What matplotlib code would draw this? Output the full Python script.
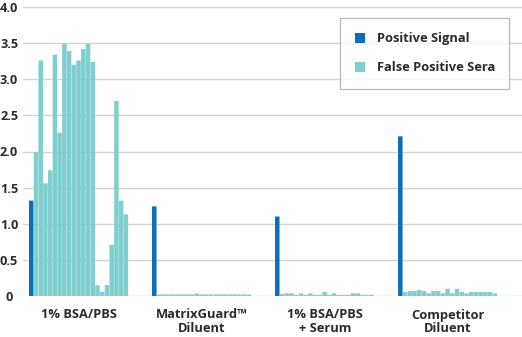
import matplotlib
matplotlib.use('Agg')
import matplotlib.pyplot as plt
from matplotlib.patches import Patch

plt.rcParams['font.family'] = ['Open Sans', 'DejaVu Sans']

# Dados
grupos = ['1% BSA/PBS', 'MatrixGuard™\nDiluent', '1% BSA/PBS\n+ Serum', 'Competitor\nDiluent']
sinal_positivo = [1.32, 1.24, 1.10, 2.21]
falso_bsa = [1.99, 3.26, 1.56, 1.74, 3.34, 2.26, 3.49, 3.39, 3.20, 3.26,
             3.42, 3.49, 3.24, 0.15, 0.06, 0.15, 0.71, 2.70, 1.32, 1.13]
falso_matrix = [0.022, 0.022, 0.022, 0.022, 0.022, 0.022, 0.022, 0.022, 0.035, 0.022,
                0.022, 0.022, 0.022, 0.022, 0.022, 0.022, 0.022, 0.022, 0.022, 0.022]
falso_bsa_soro = [0.028, 0.037, 0.037, 0.016, 0.037, 0.016, 0.037, 0.016, 0.016, 0.055,
                  0.016, 0.037, 0.016, 0.016, 0.016, 0.037, 0.037, 0.016, 0.016, 0.016]
falso_competidor = [0.055, 0.07, 0.07, 0.083, 0.07, 0.037, 0.07, 0.07, 0.037, 0.10,
                    0.037, 0.10, 0.055, 0.037, 0.055, 0.055, 0.055, 0.055, 0.055, 0.037]
falsos = [falso_bsa, falso_matrix, falso_bsa_soro, falso_competidor]

azul = '#0a6fbb'
turquesa = '#7fcfcf'
texto = '#2b2b2b'
passo = 26  # largura de cada grupo em barras

fig = plt.figure(figsize=(5.22, 3.37), dpi=100)
ax = fig.add_axes([23 / 522, 41 / 337, 499 / 522, 289 / 337])

centros = []
for i, (pos, fp) in enumerate(zip(sinal_positivo, falsos)):
    x0 = i * passo
    b1 = ax.bar(x0, pos, width=0.95, color=azul, align='edge', zorder=3)
    xs = [x0 + 1 + k for k in range(len(fp))]
    b2 = ax.bar(xs, fp, width=0.95, color=turquesa, align='edge', zorder=3)
    for r in list(b1) + list(b2):
        r.set_snap(False)
    centros.append(x0 + (len(fp) + 1) / 2)

ax.set_xlim(-1.27, 104.2)
ax.set_ylim(0, 4.0)
ax.set_yticks([0, 0.5, 1.0, 1.5, 2.0, 2.5, 3.0, 3.5, 4.0])
ax.set_yticklabels(['0', '0.5', '1.0', '1.5', '2.0', '2.5', '3.0', '3.5', '4.0'],
                   fontsize=9.2, fontweight='bold', color=texto, ha='center')
ax.set_xticks(centros)
ax.set_xticklabels(grupos, fontsize=9.3, fontweight='bold', color=texto, linespacing=1.1)
ax.tick_params(axis='y', length=0, pad=10)
ax.tick_params(axis='x', length=0, pad=9)
ax.grid(axis='y', color='#d4d4d4', linewidth=1.0, zorder=0)
ax.set_axisbelow(True)
for lado in ['top', 'right', 'left', 'bottom']:
    ax.spines[lado].set_visible(False)

alcas = [Patch(facecolor=azul, label='Positive Signal'),
         Patch(facecolor=turquesa, label='False Positive Sera')]
leg = ax.legend(handles=alcas, loc='upper right', bbox_to_anchor=(509 / 522, 1 - 18 / 337),
                bbox_transform=fig.transFigure, frameon=True, fancybox=False,
                handlelength=0.8, handleheight=0.8, handletextpad=0.9,
                labelspacing=1.25, borderpad=1.1, borderaxespad=0,
                prop={'family': 'Open Sans', 'weight': 'bold', 'size': 9.3})
leg.get_frame().set_edgecolor('#a8a8a8')
leg.get_frame().set_linewidth(0.9)
for t in leg.get_texts():
    t.set_color(texto)

plt.savefig('out.png', dpi=100)
